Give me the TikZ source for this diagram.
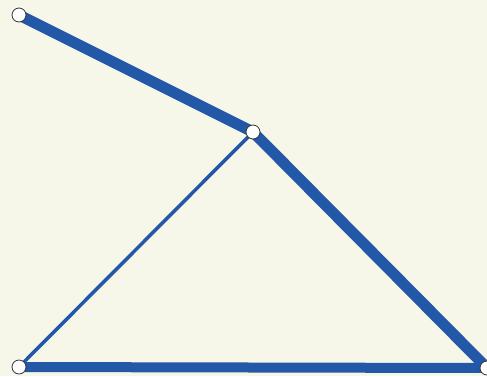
\documentclass[tikz,border=0pt]{standalone}
\definecolor{bg}{HTML}{F7F7E9}
\definecolor{lineblue}{HTML}{2357A8}
\tikzset{
  joint/.style={circle, draw=black!80, fill=white, line width=0.8pt, minimum size=14pt, inner sep=0pt},
  heavy/.style={lineblue, line width=11pt},
  mid/.style={lineblue, line width=10pt},
  light/.style={lineblue, line width=3.5pt}
}
\begin{document}
\begin{tikzpicture}[x=1pt,y=-1pt]
\fill[bg] (0,0) rectangle (487,376);
\useasboundingbox (0,0) rectangle (487,376);
\coordinate (A) at (19,15);
\coordinate (B) at (253,132);
\coordinate (C) at (19,367);
\coordinate (D) at (487,368);
\draw[heavy] (A) -- (B);
\draw[heavy] (B) -- (D);
\draw[light] (B) -- (C);
\draw[mid] (C) -- (D);
\node[joint] (a) at (A) {};
\node[joint] (b) at (B) {};
\node[joint] (c) at (C) {};
\node[joint] (d) at (D) {};
\end{tikzpicture}
\end{document}
